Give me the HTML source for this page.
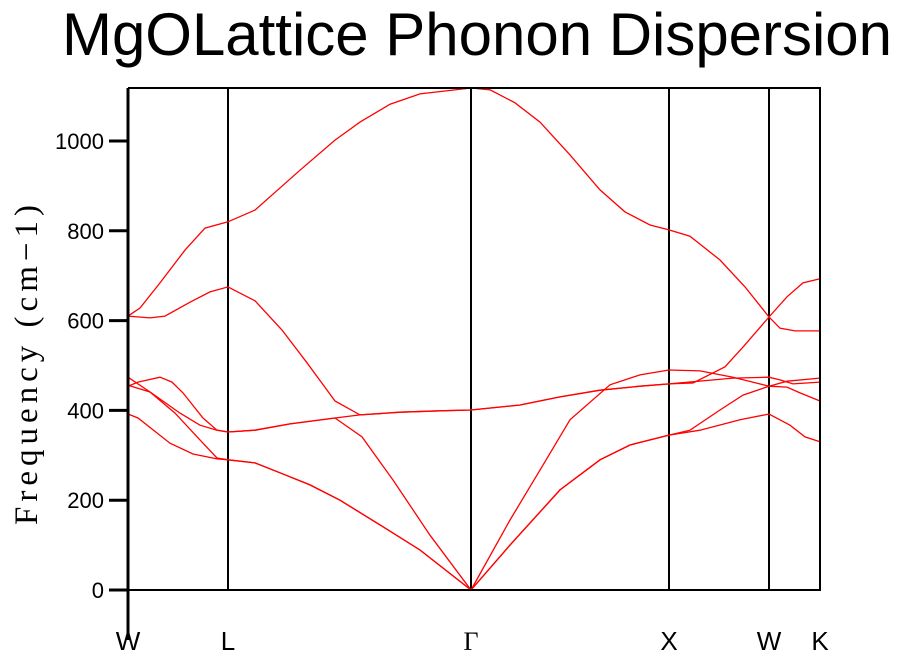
<!DOCTYPE html>
<html><head><meta charset="utf-8"><style>
body{margin:0;background:#fff;width:904px;height:658px;overflow:hidden}
svg{display:block}
</style></head><body>
<svg id="chart" width="904" height="658">
<text x="477" y="55" text-anchor="middle" font-family="Liberation Sans, sans-serif" font-size="60" textLength="830" lengthAdjust="spacingAndGlyphs">MgOLattice Phonon Dispersion</text>
<text transform="translate(37,365) rotate(-90)" text-anchor="middle" font-family="Liberation Serif, serif" font-size="33" textLength="320" lengthAdjust="spacing">Frequency (cm−1)</text>
<g id="grid"></g><g id="series"></g><g id="axes"></g>
</svg>
<script>
const yTicks=[0,200,400,600,800,1000];
const kLabels=["W","L","Γ","X","W","K"];
const kPoints=[0,1,3.43,5.41,6.41,6.92];
const branchA=[[0,610],[0.12,628],[0.32,684],[0.57,757],[0.77,806],[1,820],[1.27,846],[1.72,935],[2.07,1002],[2.32,1042],[2.62,1082],[2.92,1105],[3.43,1118],[3.62,1114],[3.87,1085],[4.12,1042],[4.42,969],[4.72,891],[4.97,842],[5.22,813],[5.41,802],[5.62,788],[5.92,735],[6.17,675],[6.41,608],[6.52,583],[6.67,577],[6.92,577]];
const branchB=[[0,610],[0.22,606],[0.37,610],[0.62,641],[0.82,664],[1,675],[1.27,644],[1.54,579],[1.79,506],[2.07,421],[2.32,390],[2.72,396],[3.12,399],[3.43,401],[3.92,412],[4.32,430],[4.72,445],[5.12,454],[5.41,459],[6.05,472],[6.41,474],[6.52,468],[6.65,459],[6.92,463]];
const branchC=[[0,456],[0.22,441],[0.52,394],[0.72,367],[0.89,356],[1,352],[1.27,356],[1.62,370],[2.07,383],[2.34,341],[2.65,245],[3.02,122],[3.43,0],[3.82,156],[4.12,267],[4.42,379],[4.82,457],[5.12,479],[5.41,490],[5.72,488],[6.05,474],[6.41,454],[6.59,452],[6.72,439],[6.92,421]];
const branchD=[[0,454],[0.1,463],[0.32,474],[0.44,463],[0.55,439],[0.75,383],[0.89,356],[1,352],[1.27,356],[1.62,370],[2.07,383],[2.32,390],[2.72,396],[3.12,399],[3.43,401],[3.92,412],[4.32,430],[4.72,445],[5.12,454],[5.41,459],[5.65,461],[5.97,497],[6.15,541],[6.41,608],[6.59,653],[6.75,684],[6.92,693]];
const branchE=[[0,474],[0.22,441],[0.47,394],[0.75,327],[0.89,294],[1,290],[1.27,283],[1.52,261],[1.82,234],[2.12,200],[2.52,145],[2.92,89],[3.43,0],[3.82,100],[4.32,223],[4.72,290],[5.02,323],[5.41,345],[5.62,356],[5.92,401],[6.15,434],[6.41,454],[6.59,465],[6.92,472]];
const branchF=[[0,392],[0.1,383],[0.42,327],[0.65,303],[0.89,292],[1,290],[1.27,283],[1.52,261],[1.82,234],[2.12,200],[2.52,145],[2.92,89],[3.43,0],[3.82,100],[4.32,223],[4.72,290],[5.02,323],[5.41,345],[5.72,356],[6.12,379],[6.41,392],[6.62,367],[6.77,341],[6.92,330]];
const branches=[branchA,branchB,branchC,branchD,branchE,branchF];

const X0=128,X1=820,Y0=590,YTOP=88,FMAX=(590-88)/0.449;
const xs=k=>X0+(k/6.92)*(X1-X0);
const ys=f=>Y0-(f/FMAX)*(Y0-YTOP);
const NS="http://www.w3.org/2000/svg";
function mk(tag,attrs,parent){const e=document.createElementNS(NS,tag);for(const a in attrs)e.setAttribute(a,attrs[a]);parent.appendChild(e);return e;}
const grid=document.getElementById('grid'),ser=document.getElementById('series'),ax=document.getElementById('axes');

kPoints.forEach((k,i)=>{
  if(i>0&&i<kPoints.length-1){
    const l=mk('line',{x1:xs(k),x2:xs(k),y1:YTOP,y2:Y0,stroke:'#000','stroke-width':2},grid);
    
    
  }
  const t=mk('text',{x:xs(k),y:650,'text-anchor':'middle','font-size':26,'font-family':kLabels[i]==='Γ'?'Liberation Serif, serif':'Liberation Sans, sans-serif'},ax);
  t.textContent=kLabels[i];
  
  
});
branches.forEach((b,i)=>{
  const p=mk('polyline',{points:b.map(d=>xs(d[0]).toFixed(1)+','+ys(d[1]).toFixed(1)).join(' '),fill:'none',stroke:'#ff0000','stroke-width':1.3},ser);
  
  
});
const fr=mk('path',{d:`M${X0},${YTOP}H${X1}V${Y0}H${X0}`,fill:'none',stroke:'#000','stroke-width':2},ax);


const yl=mk('line',{x1:X0,x2:X0,y1:YTOP,y2:640,stroke:'#000','stroke-width':3},ax);


yTicks.forEach(v=>{
  const tk=mk('line',{x1:109,x2:X0,y1:ys(v),y2:ys(v),stroke:'#000','stroke-width':3},ax);
  
  
  const t=mk('text',{x:104,y:ys(v)+8,'text-anchor':'end','font-size':22,'font-family':'Liberation Sans, sans-serif'},ax);
  t.textContent=v;
  
  
});
</script>
</body></html>
